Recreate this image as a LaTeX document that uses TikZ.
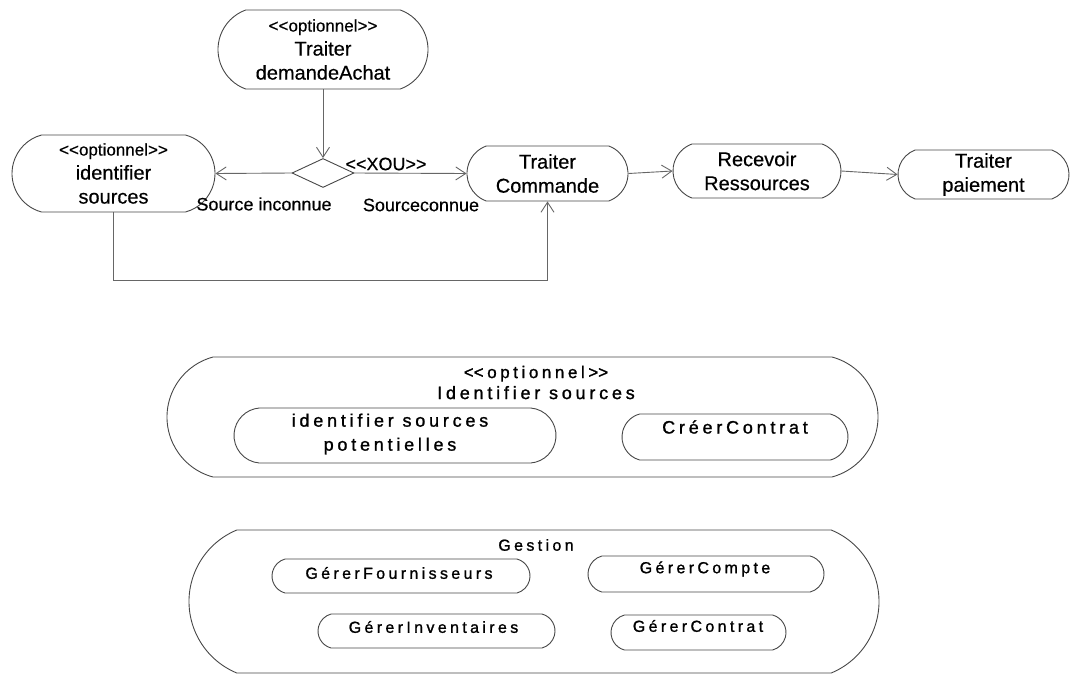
\documentclass[tikz,border=0pt]{standalone}
\usepackage{fontspec}
\setmainfont{Liberation Sans}[FakeBold=0.4]
\newfontfamily\spaced[LetterSpace=21,FakeBold=1.2]{Liberation Sans}
\usetikzlibrary{shapes.misc,shapes.geometric,arrows.meta}
\newcommand\sopen{<\kern0pt<}
\newcommand\sclose{>\kern0pt>}
\begin{document}
\begin{tikzpicture}[x=1pt,y=-1pt,
  ln/.style={draw=black!72,line width=0.9pt},
  act/.style={ln,rounded rectangle,rounded rectangle arc length=140,inner sep=0pt,align=center,font=\fontsize{20}{24}\selectfont},
  sub/.style={ln,rounded rectangle,rounded rectangle arc length=150,inner sep=0pt},
  lbl/.style={inner sep=0pt,font=\fontsize{18}{22}\selectfont},
  ttl/.style={inner sep=0pt,align=center,font=\spaced\fontsize{18}{21}\selectfont},
  itm/.style={inner sep=0pt,align=center,font=\spaced\fontsize{16}{24}\selectfont},
  itmb/.style={inner sep=0pt,align=center,font=\spaced\fontsize{18}{24}\selectfont},
  arr/.style={draw=black!60,line width=0.9pt,-{Straight Barb[length=10pt,width=13pt]}}
]
\useasboundingbox (0,0) rectangle (1074,675);

% top activity row
\node[act,minimum width=210pt,minimum height=79pt] (n1) at (323,49.5)
  {{\fontsize{17}{24}\selectfont\sopen optionnel\sclose}\\Traiter\\demandeAchat};
\node[ln,diamond,minimum width=62pt,minimum height=29pt,inner sep=0pt] (d) at (323,173) {};
\node[act,minimum width=203pt,minimum height=77pt,rounded rectangle arc length=150] (n2) at (113.5,173.5)
  {{\fontsize{17}{23}\selectfont\sopen optionnel\sclose}\\identifier\\sources};
\node[act,minimum width=161pt,minimum height=55pt] (n3) at (547.5,173.5) {Traiter\\Commande};
\node[act,minimum width=168pt,minimum height=54pt] (n4) at (757,171) {Recevoir\\Ressources};
\node[act,minimum width=171pt,minimum height=49pt] (n5) at (983.5,174.5) {Traiter\\paiement};

\node[lbl] (xou) at (386,164) {\sopen XOU\sclose};
\node[lbl] (si) at (264,204) {Source inconnue};
\node[lbl] (sc) at (421,205) {Sourceconnue};

\draw[arr] (n1.south) -- (d.north);
\draw[arr] (d.west) -- (n2.east);
\draw[arr] (d.east) -- (n3.west);
\draw[arr] (n3.east) -- (n4.west);
\draw[arr] (n4.east) -- (n5.west);
\coordinate (bend) at (0,280);
\draw[arr] (n2.south) -- (n2.south |- bend) -| (n3.south);

% optional composite
\node[sub,minimum width=711pt,minimum height=120pt,rounded rectangle arc length=150] (A) at (522.5,417) {};
\node[ttl] (At) at (536,382.5) {\fontsize{17}{21}\selectfont\sopen optionnel\sclose\\\fontsize{18}{21}\selectfont Identifier sources};
\node[sub,minimum width=322pt,minimum height=55pt,rounded rectangle arc length=170] (B1) at (395,435.5) {};
\node[itmb] (B1t) at (390,434) {identifier sources\\potentielles};
\node[sub,minimum width=226pt,minimum height=46pt] (B2) at (735,437) {};
\node[itmb] (B2t) at (735,427) {CréerContrat};

% Gestion composite
\node[sub,minimum width=690pt,minimum height=143pt,rounded rectangle arc length=135] (G) at (534,601.5) {};
\node[itm] (Gt) at (536,545) {Gestion};
\node[sub,minimum width=258pt,minimum height=34pt] (G1) at (401,576) {};
\node[itm] (G1t) at (399,573) {GérerFournisseurs};
\node[sub,minimum width=236pt,minimum height=36pt] (G2) at (706,574) {};
\node[itm] (G2t) at (705,569) {GérerCompte};
\node[sub,minimum width=237pt,minimum height=34pt] (G3) at (436.5,631) {};
\node[itm] (G3t) at (433.5,627) {GérerInventaires};
\node[sub,minimum width=175pt,minimum height=35pt] (G4) at (698.5,632.5) {};
\node[itm] (G4t) at (698,626) {GérerContrat};
\end{tikzpicture}
\end{document}
